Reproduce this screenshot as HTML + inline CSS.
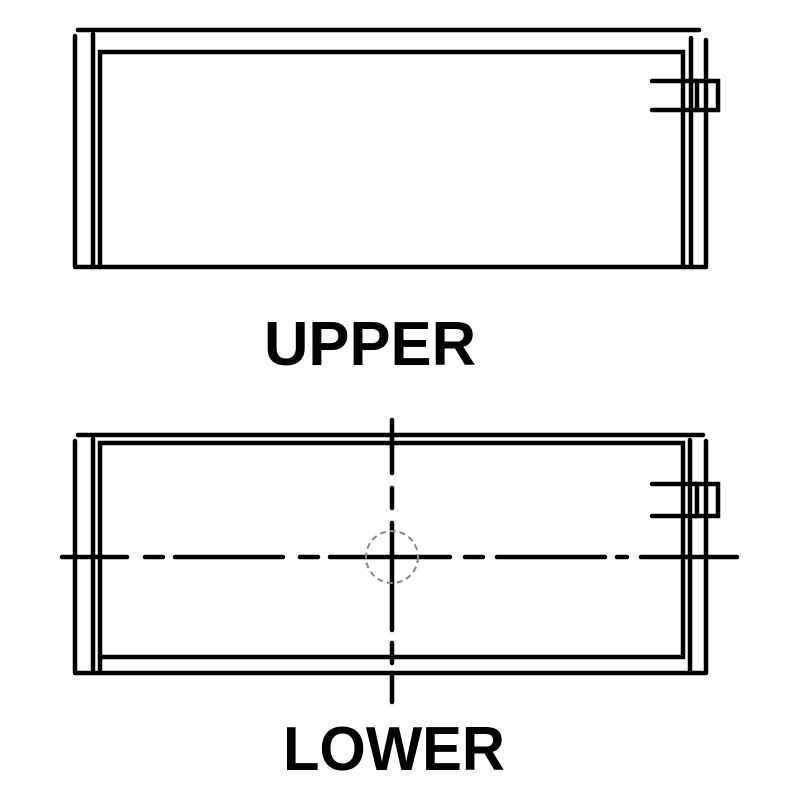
<!DOCTYPE html>
<html><head><style>body{margin:0;background:#fff}svg{display:block}</style></head>
<body>
<svg width="800" height="800" viewBox="0 0 800 800" xmlns="http://www.w3.org/2000/svg">
<g fill="none" stroke="#000" stroke-width="4.5" stroke-linecap="round">
<!-- UPPER -->
<line x1="78" y1="30" x2="699" y2="30"/>
<line x1="75" y1="36" x2="75" y2="266"/>
<line x1="93" y1="34" x2="93" y2="266"/>
<line x1="75" y1="267" x2="706" y2="267"/>
<polyline points="100,266 100,52 683,52 683,266"/>
<line x1="691" y1="38" x2="691" y2="266"/>
<line x1="706" y1="40" x2="706" y2="266"/>
<line x1="652" y1="81" x2="697" y2="81"/>
<line x1="652" y1="110" x2="697" y2="110"/>
<rect x="697" y="81" width="21" height="29"/>
<!-- LOWER -->
<line x1="78" y1="435" x2="703" y2="435"/>
<line x1="75" y1="441" x2="75" y2="672"/>
<line x1="93" y1="439" x2="93" y2="672"/>
<line x1="75" y1="673" x2="706" y2="673"/>
<polyline points="100,672 100,443 683,443 683,657 100,657"/>
<line x1="690" y1="440" x2="690" y2="672"/>
<line x1="706" y1="441" x2="706" y2="672"/>
<line x1="652" y1="484" x2="697" y2="484"/>
<line x1="652" y1="516" x2="697" y2="516"/>
<rect x="697" y="484" width="21" height="32"/>
<!-- center lines -->
<line x1="62" y1="557" x2="127" y2="557"/>
<line x1="145" y1="557" x2="163" y2="557"/>
<line x1="175" y1="557" x2="283" y2="557"/>
<line x1="300" y1="557" x2="318" y2="557"/>
<line x1="330" y1="557" x2="450" y2="557"/>
<line x1="465" y1="557" x2="483" y2="557"/>
<line x1="497" y1="557" x2="605" y2="557"/>
<line x1="617" y1="557" x2="627" y2="557"/>
<line x1="641" y1="557" x2="737" y2="557"/>
<line x1="392" y1="420" x2="392" y2="473"/>
<line x1="392" y1="488" x2="392" y2="508"/>
<line x1="392" y1="523" x2="392" y2="630"/>
<line x1="392" y1="643" x2="392" y2="663"/>
<line x1="392" y1="673" x2="392" y2="702"/>
</g>
<circle cx="392" cy="557" r="26" fill="none" stroke="#888" stroke-width="2" stroke-dasharray="6 4"/>
<g font-family="Liberation Sans, Arial, sans-serif" font-weight="bold" fill="#000">
<text x="264" y="365" font-size="62" textLength="212" lengthAdjust="spacingAndGlyphs">UPPER</text>
<text x="283" y="770" font-size="62" textLength="222" lengthAdjust="spacingAndGlyphs">LOWER</text>
</g>
</svg>
</body></html>
